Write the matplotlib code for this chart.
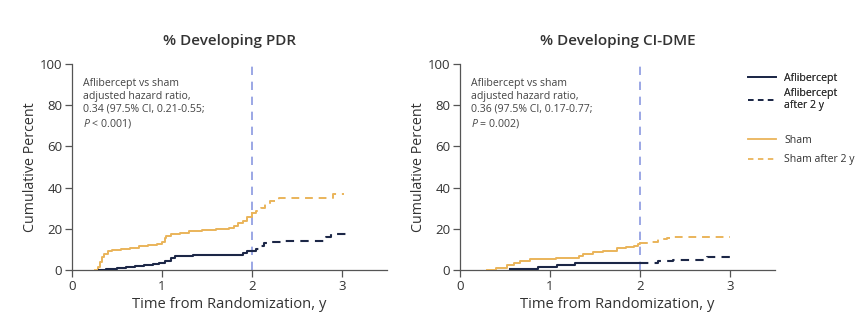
import numpy as np
import matplotlib
matplotlib.use("Agg")
import matplotlib.pyplot as plt
from matplotlib.lines import Line2D

plt.rcParams['font.family'] = ['Open Sans', 'DejaVu Sans']
plt.rcParams['mathtext.fontset'] = 'custom'
plt.rcParams['mathtext.it'] = 'Open Sans:italic'
plt.rcParams['mathtext.rm'] = 'Open Sans'

# Cumulative incidence curves (step at each time, value holds until next time)
# % Developing PDR
pdr_sham_t = [0.26, 0.29, 0.31, 0.33, 0.36, 0.40, 0.45, 0.55, 0.65, 0.75, 0.85, 0.95,
              1.00, 1.03, 1.05, 1.10, 1.20, 1.30, 1.45, 1.60, 1.75, 1.80, 1.85, 1.90,
              1.95, 2.00]
pdr_sham_v = [0, 1.5, 4, 6.5, 8, 9, 9.8, 10.4, 10.9, 11.5, 12.2, 12.8,
              13.8, 15.5, 16.7, 17.5, 18.2, 19, 19.5, 19.8, 20.2, 21.5, 22.8, 24,
              25.8, 27.5]
pdr_sham2_t = [2.00, 2.05, 2.10, 2.15, 2.20, 2.30, 2.90, 3.02]
pdr_sham2_v = [27.5, 28.5, 30, 32, 33.5, 35, 36.7, 36.7]
pdr_afl_t = [0.30, 0.38, 0.50, 0.60, 0.70, 0.80, 0.90, 0.97, 1.03, 1.10, 1.15, 1.35,
             1.85, 1.90, 1.95, 2.00]
pdr_afl_v = [0, 0.5, 1.0, 1.5, 2.0, 2.4, 2.9, 3.5, 4.5, 5.8, 6.6, 7.1,
             7.1, 8.2, 9.0, 9.4]
pdr_afl2_t = [2.00, 2.05, 2.10, 2.13, 2.20, 2.33, 2.82, 2.88, 3.05, 3.06]
pdr_afl2_v = [9.4, 10, 11.5, 12.9, 13.8, 14.2, 16.2, 17.5, 19, 19]

# % Developing CI-DME
dme_sham_t = [0.30, 0.40, 0.52, 0.60, 0.67, 0.78, 1.07, 1.32, 1.37, 1.48, 1.59, 1.74,
              1.85, 1.93, 1.98, 2.00]
dme_sham_v = [0, 1.0, 2.4, 3.4, 4.5, 5.1, 6.0, 6.8, 7.8, 8.5, 9.2, 10.5,
              11.2, 11.6, 12.5, 13.3]
dme_sham2_t = [2.00, 2.10, 2.20, 2.30, 2.37, 3.00]
dme_sham2_v = [13.3, 13.8, 14.9, 15.6, 16.2, 16.2]
dme_afl_t = [0.56, 0.87, 1.08, 1.28, 2.00]
dme_afl_v = [0.5, 1.6, 2.4, 3.5, 3.5]
dme_afl2_t = [2.00, 2.20, 2.37, 2.74, 3.00]
dme_afl2_v = [3.5, 4.4, 4.9, 6.5, 6.5]

titles = ['% Developing PDR', '% Developing CI-DME']
notes = ['Aflibercept vs sham\nadjusted hazard ratio,\n0.34 (97.5% CI, 0.21-0.55;\n$\\it{P}$ < 0.001)',
         'Aflibercept vs sham\nadjusted hazard ratio,\n0.36 (97.5% CI, 0.17-0.77;\n$\\it{P}$ = 0.002)']

navy = '#1c2747'
gold = '#eab45a'
vblue = '#8a98e0'
txt = '#333333'

fig = plt.figure(figsize=(8.62, 3.34), dpi=100)
ax1 = fig.add_axes([0.0835, 0.1916, 0.3654, 0.6168])
ax2 = fig.add_axes([0.5336, 0.1916, 0.3654, 0.6168])

panels = [
    (ax1, (pdr_afl_t, pdr_afl_v), (pdr_afl2_t, pdr_afl2_v),
     (pdr_sham_t, pdr_sham_v), (pdr_sham2_t, pdr_sham2_v)),
    (ax2, (dme_afl_t, dme_afl_v), (dme_afl2_t, dme_afl2_v),
     (dme_sham_t, dme_sham_v), (dme_sham2_t, dme_sham2_v)),
]

for i, (ax, afl, afl2, sham, sham2) in enumerate(panels):
    ax.axvline(2, ymin=0, ymax=1, color=vblue, lw=1.2, ls=(0, (5, 4)), zorder=1)
    ax.step(sham[0], sham[1], where='post', color=gold, lw=1.4, zorder=3)
    ax.step(sham2[0], sham2[1], where='post', color=gold, lw=1.4, ls=(0, (4, 3)), zorder=3)
    ax.step(afl[0], afl[1], where='post', color=navy, lw=1.5, zorder=4)
    ax.step(afl2[0], afl2[1], where='post', color=navy, lw=1.5, ls=(0, (4, 3)), zorder=4)

    ax.set_xlim(0, 3.5)
    ax.set_ylim(0, 100)
    ax.set_xticks([0, 1, 2, 3])
    ax.set_yticks([0, 20, 40, 60, 80, 100])
    for s in ['top', 'right']:
        ax.spines[s].set_visible(False)
    for s in ['left', 'bottom']:
        ax.spines[s].set_color('#555555')
        ax.spines[s].set_linewidth(0.9)
    ax.tick_params(colors='#555555', labelcolor=txt, labelsize=9.5, length=5, width=0.9, pad=2)
    ax.set_title(titles[i], fontsize=11, fontweight='semibold', color=txt, pad=14)
    ax.set_xlabel('Time from Randomization, y', fontsize=10.6, color=txt, labelpad=3)
    ax.set_ylabel('Cumulative Percent', fontsize=10.3, color=txt, labelpad=1)
    ax.text(0.12, 93, notes[i], fontsize=7.6, color='#444444', va='top', ha='left',
            linespacing=1.2)

# legend to the right of the second panel
afl_handles = [Line2D([], [], color=navy, lw=1.3),
               Line2D([], [], color=navy, lw=1.3, ls=(0, (3, 2.5)))]
sham_handles = [Line2D([], [], color=gold, lw=1.3),
                Line2D([], [], color=gold, lw=1.3, ls=(0, (3, 2.5)))]
leg1 = fig.legend(afl_handles, ['Aflibercept', 'Aflibercept\nafter 2 y'],
                  loc='upper left', bbox_to_anchor=(0.857, 0.81), frameon=False,
                  fontsize=7.6, handlelength=2.6, handletextpad=0.8, labelspacing=0.35,
                  labelcolor=txt)
fig.legend(sham_handles, ['Sham', 'Sham after 2 y'],
           loc='upper left', bbox_to_anchor=(0.857, 0.625), frameon=False,
           fontsize=7.6, handlelength=2.6, handletextpad=0.8, labelspacing=0.8,
           labelcolor=txt)
fig.add_artist(leg1)

fig.savefig('out.png', dpi=100)
